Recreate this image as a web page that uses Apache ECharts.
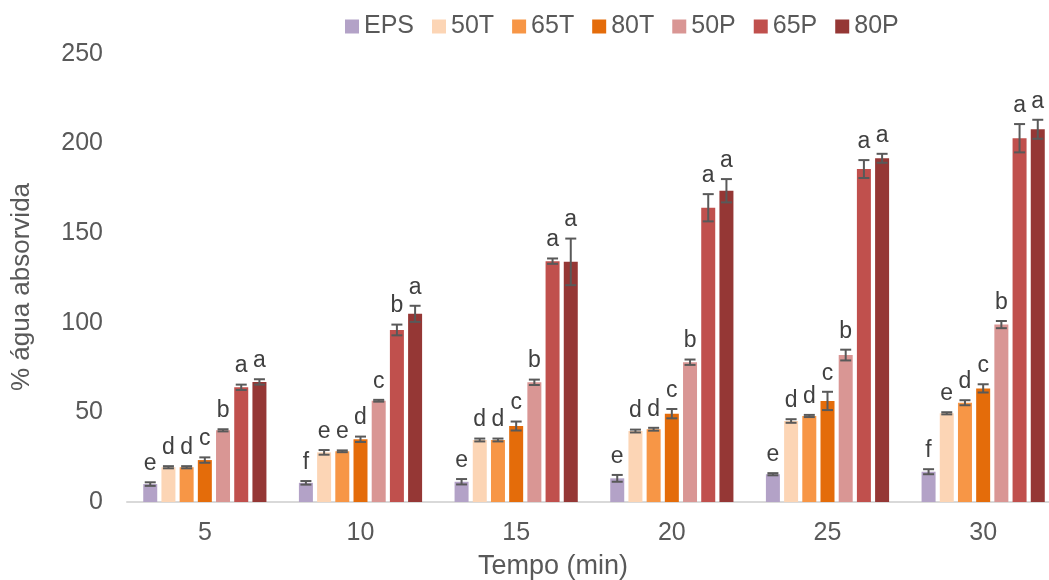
<!DOCTYPE html>
<html>
<head>
<meta charset="utf-8">
<script src="https://cdn.jsdelivr.net/npm/echarts@6/dist/echarts.min.js"></script>
<style>html,body{margin:0;padding:0;background:#fff;overflow:hidden;}#c{width:1075px;height:580px;}</style>
</head>
<body>
<div id="c"></div>
<script>
const categories = ['5', '10', '15', '20', '25', '30'];
const seriesNames = ['EPS', '50T', '65T', '80T', '50P', '65P', '80P'];
const yTicks = [0, 50, 100, 150, 200, 250];

const EPS = [10.0, 10.7, 11.3, 13.2, 15.5, 16.9];
const T50 = [19.4, 27.7, 34.6, 39.6, 45.2, 49.5];
const T65 = [19.4, 28.3, 34.6, 40.6, 48.0, 55.4];
const T80 = [23.4, 35.0, 42.4, 49.3, 56.4, 63.4];
const P50 = [40.0, 56.5, 66.8, 78.0, 82.0, 99.0];
const P65 = [64.0, 96.0, 134.4, 164.2, 185.8, 203.0];
const P80 = [67.0, 105.0, 134.0, 173.7, 191.8, 208.0];

const EPS_err = [1.0, 1.0, 1.5, 1.9, 0.6, 1.4];
const T50_err = [0.6, 1.3, 0.8, 0.8, 1.0, 0.6];
const T65_err = [0.6, 0.5, 0.8, 0.8, 0.6, 1.4];
const T80_err = [1.5, 1.5, 2.5, 2.6, 5.1, 2.3];
const P50_err = [0.6, 0.5, 1.5, 1.5, 3.0, 2.0];
const P65_err = [1.5, 3.0, 1.5, 7.6, 5.0, 7.9];
const P80_err = [1.5, 4.5, 13.0, 6.5, 2.5, 5.3];

const EPS_let = ['e', 'f', 'e', 'e', 'e', 'f'];
const T50_let = ['d', 'e', 'd', 'd', 'd', 'e'];
const T65_let = ['d', 'e', 'd', 'd', 'd', 'd'];
const T80_let = ['c', 'd', 'c', 'c', 'c', 'c'];
const P50_let = ['b', 'c', 'b', 'b', 'b', 'b'];
const P65_let = ['a', 'b', 'a', 'a', 'a', 'a'];
const P80_let = ['a', 'a', 'a', 'a', 'a', 'a'];

const values = [EPS, T50, T65, T80, P50, P65, P80];
const errors = [EPS_err, T50_err, T65_err, T80_err, P50_err, P65_err, P80_err];
const letters = [EPS_let, T50_let, T65_let, T80_let, P50_let, P65_let, P80_let];
const colors = ['#B3A2C7', '#FCD5B5', '#F79646', '#E46C0A', '#D99694', '#C0504D', '#953735'];

const BAR_W = 14, BAR_GAP = 0.3;
const PITCH = BAR_W * (1 + BAR_GAP);
const FONT = '"Liberation Sans", Arial, sans-serif';

const series = [];
seriesNames.forEach((name, k) => {
  series.push({
    name: name,
    type: 'bar',
    barWidth: BAR_W,
    barGap: (BAR_GAP * 100) + '%',
    itemStyle: { color: colors[k] },
    data: values[k],
    animation: false
  });
});
seriesNames.forEach((name, k) => {
  series.push({
    name: name + '_err',
    type: 'custom',
    animation: false,
    z: 5,
    encode: { x: 0, y: 1 },
    data: values[k].map((v, i) => [i, v, errors[k][i]]),
    renderItem: function (params, api) {
      const ci = api.value(0), v = api.value(1), e = api.value(2);
      const top = api.coord([ci, v + e]);
      const bot = api.coord([ci, v - e]);
      const x = top[0] + (k - 3) * PITCH;
      const cap = 5.5;
      return {
        type: 'group',
        children: [
          { type: 'line', shape: { x1: x, y1: top[1], x2: x, y2: bot[1] }, style: { stroke: '#595959', lineWidth: 2 } },
          { type: 'line', shape: { x1: x - cap, y1: top[1], x2: x + cap, y2: top[1] }, style: { stroke: '#595959', lineWidth: 2 } },
          { type: 'line', shape: { x1: x - cap, y1: bot[1], x2: x + cap, y2: bot[1] }, style: { stroke: '#595959', lineWidth: 2 } },
          { type: 'text', x: x, y: top[1] - 7, style: { text: letters[k][params.dataIndex], fill: '#404040', font: '23px ' + FONT, textAlign: 'center', textVerticalAlign: 'bottom' } }
        ]
      };
    }
  });
});

const chart = echarts.init(document.getElementById('c'), null, { renderer: 'canvas' });
chart.setOption({
  backgroundColor: '#ffffff',
  animation: false,
  textStyle: { fontFamily: FONT },
  legend: {
    data: seriesNames,
    left: 340,
    top: 9,
    itemWidth: 14,
    itemHeight: 14,
    itemGap: 18,
    icon: 'rect',
    textStyle: { fontSize: 25, color: '#595959', fontFamily: FONT }
  },
  grid: { left: 127, top: 54, width: 934, height: 448, containLabel: false },
  xAxis: {
    type: 'category',
    data: categories,
    axisLine: { lineStyle: { color: '#D9D9D9', width: 2 } },
    axisTick: { show: false },
    axisLabel: { fontSize: 25, color: '#595959', margin: 19, fontFamily: FONT }
  },
  yAxis: {
    type: 'value',
    min: yTicks[0],
    max: yTicks[yTicks.length - 1],
    interval: 50,
    splitLine: { show: false },
    axisLine: { show: false },
    axisTick: { show: false },
    axisLabel: { fontSize: 25, color: '#595959', margin: 24, fontFamily: FONT }
  },
  graphic: [
    { type: 'text', x: 553, y: 567, style: { text: 'Tempo (min)', font: '27px ' + FONT, fill: '#595959', textAlign: 'center', textVerticalAlign: 'middle' } },
    { type: 'text', x: 22, y: 287, rotation: Math.PI / 2, style: { text: '% água absorvida', font: '26px ' + FONT, fill: '#595959', textAlign: 'center', textVerticalAlign: 'middle' } }
  ],
  series: series
});
</script>
</body>
</html>
